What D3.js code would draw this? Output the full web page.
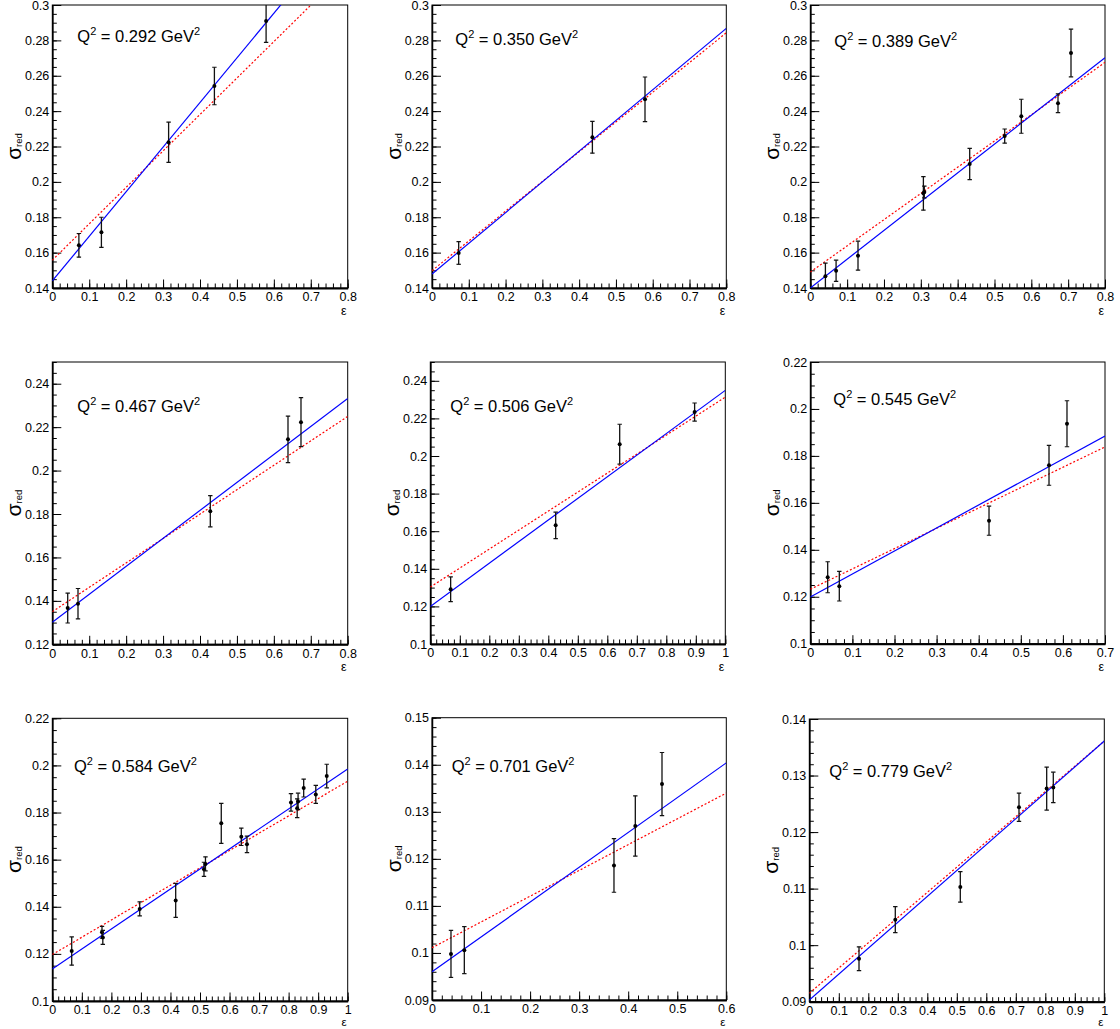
<!DOCTYPE html>
<html>
<head>
<meta charset="utf-8">
<script src="https://cdn.jsdelivr.net/npm/d3@7"></script>
<style>
  html, body { margin: 0; padding: 0; background: #fff; }
  svg { display: block; }
  text { font-family: "Liberation Sans", Arial, Helvetica, sans-serif; fill: #000; }
</style>
</head>
<body>
<svg id="chart" width="1120" height="1029"></svg>
<script>
// ---------------- data ----------------
const q2Labels = ["0.292", "0.350", "0.389", "0.467", "0.506", "0.545", "0.584", "0.701", "0.779"];

const xMaxs = [0.8, 0.8, 0.8, 0.8, 1.0, 0.7, 1.0, 0.6, 1.0];
const yMins = [0.14, 0.14, 0.14, 0.12, 0.10, 0.10, 0.10, 0.09, 0.09];
const yMaxs = [0.30, 0.30, 0.30, 0.25, 0.25, 0.22, 0.22, 0.15, 0.14];
const yMajorSteps = [0.02, 0.02, 0.02, 0.02, 0.02, 0.02, 0.02, 0.01, 0.01];
const yMinorSteps = [0.005, 0.005, 0.005, 0.005, 0.005, 0.005, 0.005, 0.002, 0.002];
const xMajorStep = 0.1;
const xMinorStep = 0.02;

const epsilonValues = [
  [0.072, 0.133, 0.315, 0.439, 0.579],
  [0.0725, 0.436, 0.579],
  [0.041, 0.070, 0.1295, 0.307, 0.3095, 0.4327, 0.5277, 0.5728, 0.6724, 0.7077],
  [0.0417, 0.0696, 0.4279, 0.6383, 0.6735],
  [0.069, 0.425, 0.642, 0.896],
  [0.0413, 0.0689, 0.4245, 0.567, 0.6097],
  [0.0657, 0.1682, 0.171, 0.2959, 0.4177, 0.5135, 0.5185, 0.572, 0.6398, 0.659, 0.808, 0.829, 0.832, 0.851, 0.892, 0.929],
  [0.0387, 0.0659, 0.371, 0.4145, 0.4689],
  [0.1685, 0.2915, 0.5119, 0.7108, 0.8047, 0.8271]
];
const sigmaValues = [
  [0.1641, 0.1715, 0.2224, 0.2542, 0.2910],
  [0.1598, 0.2252, 0.2467],
  [0.1466, 0.1498, 0.1583, 0.1935, 0.1943, 0.2101, 0.2259, 0.2371, 0.2444, 0.2729],
  [0.1367, 0.1387, 0.1813, 0.2144, 0.2223],
  [0.1291, 0.1631, 0.2063, 0.2234],
  [0.1283, 0.1245, 0.1524, 0.1760, 0.1937],
  [0.1212, 0.1292, 0.1270, 0.1391, 0.1427, 0.1559, 0.1582, 0.1754, 0.1697, 0.1665, 0.1843, 0.1818, 0.1847, 0.1904, 0.1877, 0.1955],
  [0.0998, 0.1006, 0.1186, 0.1270, 0.1359],
  [0.0976, 0.1045, 0.1103, 0.1244, 0.1277, 0.1279]
];
const sigmaErrors = [
  [0.0067, 0.0085, 0.0114, 0.0106, 0.0121],
  [0.0064, 0.0090, 0.0126],
  [0.0075, 0.0060, 0.0082, 0.0095, 0.0033, 0.0088, 0.0040, 0.0096, 0.0053, 0.0135],
  [0.0069, 0.0070, 0.0072, 0.0107, 0.0113],
  [0.0066, 0.0070, 0.0106, 0.0048],
  [0.0066, 0.0063, 0.0062, 0.0085, 0.0098],
  [0.0060, 0.0025, 0.0030, 0.0030, 0.0072, 0.0030, 0.0030, 0.0085, 0.0037, 0.0035, 0.0037, 0.0040, 0.0035, 0.0038, 0.0038, 0.0050],
  [0.0050, 0.0050, 0.0057, 0.0064, 0.0067],
  [0.0021, 0.0023, 0.0027, 0.0025, 0.0038, 0.0027]
];

// linear fits: sigma = a + b * epsilon
const blueIntercepts = [0.1440, 0.1479, 0.1400, 0.1301, 0.1200, 0.1199, 0.1136, 0.0960, 0.0903];
const blueSlopes     = [0.2522, 0.1736, 0.1628, 0.1289, 0.1149, 0.0980, 0.0849, 0.0740, 0.0458];
const redIntercepts  = [0.1557, 0.1498, 0.1490, 0.1350, 0.1303, 0.1232, 0.1197, 0.1011, 0.0915];
const redSlopes      = [0.2060, 0.1681, 0.1482, 0.1124, 0.1010, 0.0866, 0.0736, 0.0548, 0.0446];

// ---------------- layout ----------------
const frames = [
  [52.3, 5, 347.7, 288], [432, 5, 726.3, 288], [810.3, 5, 1105, 288],
  [52.3, 362, 347.7, 644.3], [430.3, 362, 725.3, 644], [810.3, 362, 1105, 643.7],
  [52.3, 718.3, 347.7, 1001], [432, 717.7, 726.3, 1000], [809.3, 719, 1104.3, 1001.7]
];
const labelOffsets = [[25, 37.3], [23.3, 39.7], [24, 41.7], [25, 49.7], [20, 49.7], [23, 42.7], [21.7, 54], [19.7, 54], [20, 58.3]];

const svg = d3.select("#chart");
svg.append("rect").attr("width", 1120).attr("height", 1029).attr("fill", "#fff");

const fmt = v => String(parseFloat(v.toFixed(4)));
const rangeTicks = (lo, hi, step) => {
  const start = Math.ceil(lo / step - 1e-6);
  const out = [];
  for (let k = start; k * step <= hi + 1e-9; k++) out.push(+(k * step).toFixed(6));
  return out;
};

q2Labels.forEach((q2, i) => {
  const [x0, y0, x1, y1] = frames[i];
  const W = x1 - x0, H = y1 - y0;
  const g = svg.append("g").attr("transform", `translate(${x0},${y0})`);

  const x = d3.scaleLinear().domain([0, xMaxs[i]]).range([0, W]);
  const y = d3.scaleLinear().domain([yMins[i], yMaxs[i]]).range([H, 0]);

  const clipId = "clip" + i;
  g.append("clipPath").attr("id", clipId)
    .append("rect").attr("x", 0).attr("y", 0).attr("width", W).attr("height", H);

  // frame
  g.append("rect").attr("x", 0).attr("y", 0).attr("width", W).attr("height", H)
    .attr("fill", "none").attr("stroke", "#000").attr("stroke-width", 1);

  const xMinor = rangeTicks(0, xMaxs[i], xMinorStep);
  const yMinor = rangeTicks(yMins[i], yMaxs[i], yMinorSteps[i]);
  const xMajor = rangeTicks(0, xMaxs[i], xMajorStep);
  const yMajor = rangeTicks(yMins[i], yMaxs[i], yMajorSteps[i]);

  const gxm = g.append("g").attr("transform", `translate(0,${H})`)
    .call(d3.axisBottom(x).tickValues(xMinor).tickSize(-4.5).tickSizeOuter(0).tickFormat(""));
  const gym = g.append("g")
    .call(d3.axisLeft(y).tickValues(yMinor).tickSize(-4.5).tickSizeOuter(0).tickFormat(""));

  const gx = g.append("g").attr("transform", `translate(0,${H})`)
    .call(d3.axisBottom(x).tickValues(xMajor).tickSize(-8.5).tickSizeOuter(0).tickPadding(4.5).tickFormat(fmt));
  const gy = g.append("g")
    .call(d3.axisLeft(y).tickValues(yMajor).tickSize(-9).tickSizeOuter(0).tickPadding(3).tickFormat(fmt));

  [gxm, gym, gx, gy].forEach(a => {
    a.selectAll(".tick line").attr("stroke", "#000").attr("stroke-width", 1);
    a.select(".domain").attr("stroke", "#000");
  });
  gx.select(".domain").attr("stroke-width", 2);
  gy.select(".domain").attr("stroke-width", 1.5);
  [gx, gy].forEach(a => a.selectAll(".tick text")
    .attr("font-family", '"Liberation Sans", Arial, sans-serif')
    .attr("font-size", 12.5).attr("fill", "#000"));

  // fit lines
  const lineGen = d3.line().x(d => x(d[0])).y(d => y(d[1]));
  const lines = g.append("g").attr("clip-path", `url(#${clipId})`);
  const redPts = [0, xMaxs[i]].map(e => [e, redIntercepts[i] + redSlopes[i] * e]);
  const bluePts = [0, xMaxs[i]].map(e => [e, blueIntercepts[i] + blueSlopes[i] * e]);
  lines.append("path").attr("d", lineGen(redPts)).attr("fill", "none")
    .attr("stroke", "#ff0000").attr("stroke-width", 1.2).attr("stroke-dasharray", "2,2");
  lines.append("path").attr("d", lineGen(bluePts)).attr("fill", "none")
    .attr("stroke", "#0000ff").attr("stroke-width", 1.2);

  // data points with error bars
  const pts = epsilonValues[i].map((e, k) => ({ e, s: sigmaValues[i][k], err: sigmaErrors[i][k] }));
  const pg = g.append("g").attr("clip-path", `url(#${clipId})`);
  const pe = pg.selectAll("g.pt").data(pts).join("g").attr("class", "pt");
  pe.append("line")
    .attr("x1", d => x(d.e)).attr("x2", d => x(d.e))
    .attr("y1", d => y(d.s - d.err)).attr("y2", d => y(d.s + d.err))
    .attr("stroke", "#111").attr("stroke-width", 1.3);
  pe.append("line")
    .attr("x1", d => x(d.e) - 2.2).attr("x2", d => x(d.e) + 2.2)
    .attr("y1", d => y(d.s - d.err)).attr("y2", d => y(d.s - d.err))
    .attr("stroke", "#111").attr("stroke-width", 1.2);
  pe.append("line")
    .attr("x1", d => x(d.e) - 2.2).attr("x2", d => x(d.e) + 2.2)
    .attr("y1", d => y(d.s + d.err)).attr("y2", d => y(d.s + d.err))
    .attr("stroke", "#111").attr("stroke-width", 1.2);
  pe.append("circle").attr("cx", d => x(d.e)).attr("cy", d => y(d.s)).attr("r", 2).attr("fill", "#000");

  // Q^2 label
  const [lx, ly] = labelOffsets[i];
  const t = g.append("text").attr("x", lx).attr("y", ly).attr("font-size", 16.5);
  t.append("tspan").text("Q");
  t.append("tspan").attr("font-size", 11).attr("dy", -7).text("2");
  t.append("tspan").attr("dy", 7).text(` = ${q2} GeV`);
  t.append("tspan").attr("font-size", 11).attr("dy", -7).text("2");

  // y title
  const yt = g.append("text")
    .attr("transform", `translate(-31.5,${H / 2}) rotate(-90)`)
    .attr("text-anchor", "middle");
  yt.append("tspan").attr("font-size", 21).text("σ");
  yt.append("tspan").attr("font-size", 9.5).attr("dy", 1).text("red");

  // x title (kept inside the canvas)
  const bottomRow = (y1 + 27 > 1020);
  const titleY = bottomRow ? 1026.3 - y0 : H + 27;
  g.append("text").attr("x", W - 1).attr("y", titleY).attr("text-anchor", "end")
    .attr("font-size", bottomRow ? 11.5 : 12.5).text("ε");
});
</script>
</body>
</html>
